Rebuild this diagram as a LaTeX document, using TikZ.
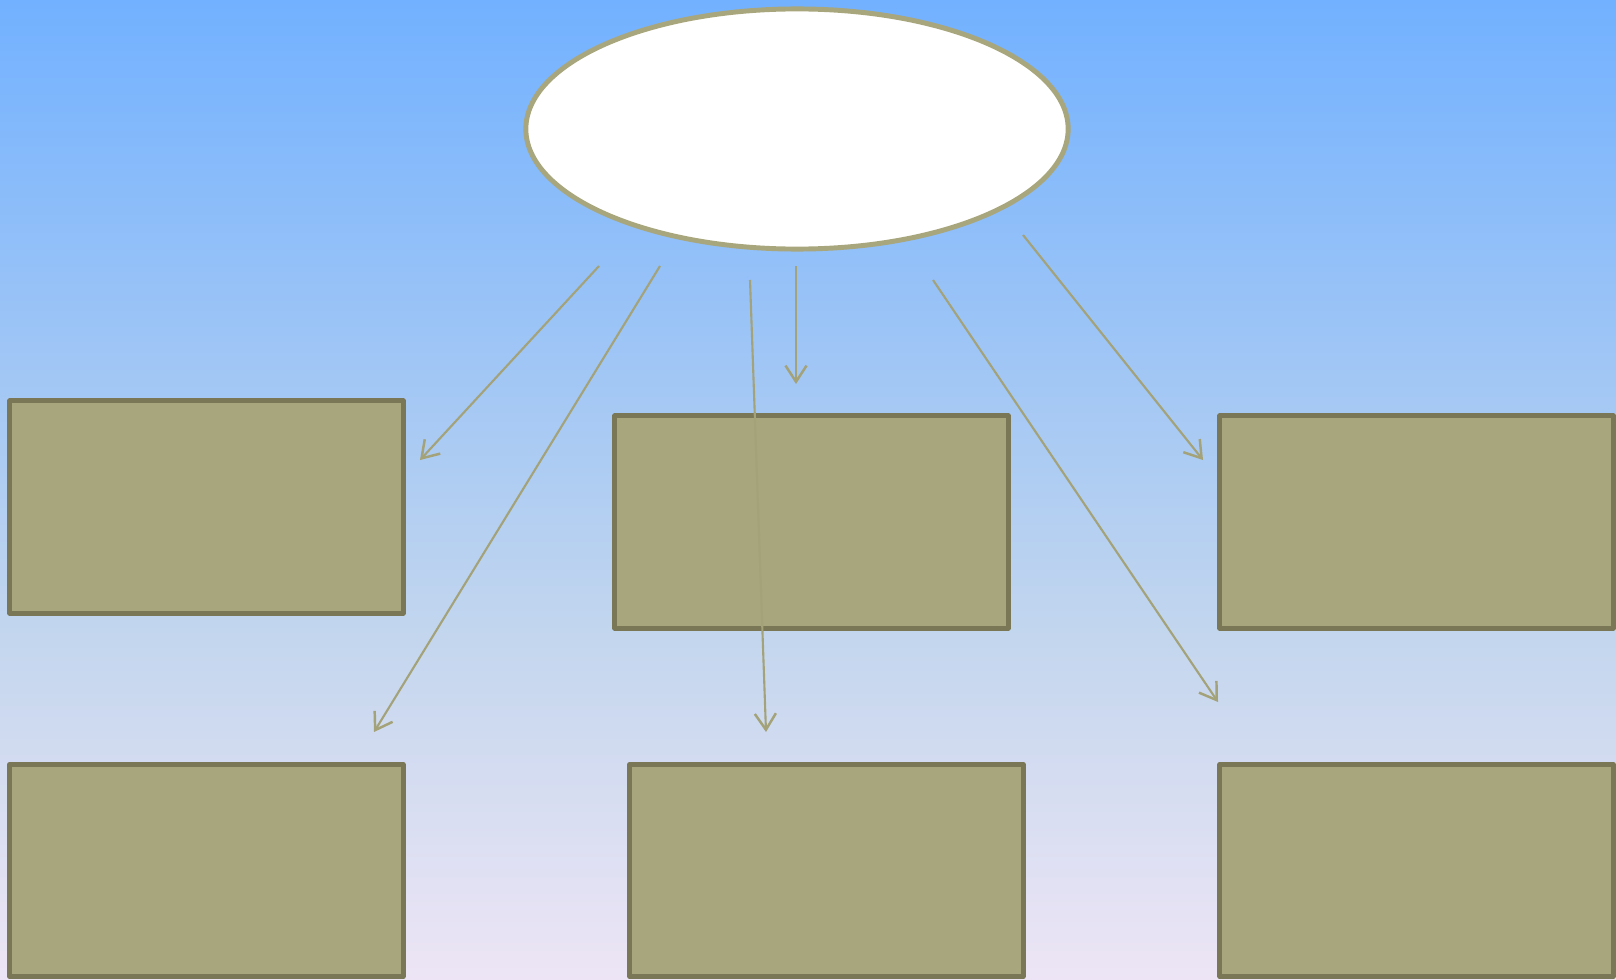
\documentclass[tikz,border=0pt]{standalone}
\usepackage{tikz}
\usetikzlibrary{arrows.meta}
\usetikzlibrary{shapes.geometric}
\usetikzlibrary{positioning}
\definecolor{skytop}{HTML}{72B1FF}
\definecolor{skymid}{HTML}{C3D6EE}
\definecolor{skybot}{HTML}{EDE5F5}
\definecolor{olive}{HTML}{A8A67C}
\definecolor{lineolive}{HTML}{A3A278}
\definecolor{darkolive}{HTML}{7A7756}
% the path only sees the stretch from 25bp to 75bp
\pgfdeclareverticalshading{skyfade}{100bp}{color(0bp)=(skybot); color(25bp)=(skybot);
  color(42.5bp)=(skymid); color(75bp)=(skytop); color(100bp)=(skytop)}
\tikzset{box/.style = {draw = darkolive, fill = olive, line width = 1.4pt, line join = round,
                       minimum width = 3.93cm, minimum height = 2.12cm, inner sep = 0}}
\tikzset{hub/.style = {draw = olive, fill = white, line width = 1.4pt, ellipse,
                       minimum width = 5.42cm, minimum height = 2.40cm, inner sep = 0}}
\tikzset{link/.style = {draw = lineolive, line width = 0.6pt,
                        -{Straight Barb[length = 4.6pt, width = 6pt, line width = 0.7pt]}}}

\begin{document}
\begin{tikzpicture}[x = 0.01cm, y = -0.01cm]
    \useasboundingbox (0, 0) rectangle (1616, 979);
    \clip (0, 0) rectangle (1616, 979);
    \fill [shading = skyfade] (0, 0) rectangle (1616, 979);

    \node [hub] (root) at (797, 129) {};

    \node [box] (topl) at (206.5, 507) {};
    \node [box] (topm) at (811.5, 522) {};
    \node [box] (topr) at (1416.5, 522) {};
    \node [box] (botl) at (206.5, 870.5) {};
    \node [box] (botm) at (826.5, 870.5) {};
    \node [box] (botr) at (1416.5, 870.5) {};

    % loose ends of the arrows
    \coordinate (s1) at (599, 266);   \coordinate (e1) at (420, 460);
    \coordinate (s2) at (660, 266);   \coordinate (e2) at (374, 732);
    \coordinate (s3) at (750, 280);   \coordinate (e3) at (766, 732);
    \coordinate (s4) at (796, 266);   \coordinate (e4) at (796, 384);
    \coordinate (s5) at (933, 280);   \coordinate (e5) at (1218, 702);
    \coordinate (s6) at (1023, 235);  \coordinate (e6) at (1203, 460);

    \draw [link] (s1) -- (e1);
    \draw [link] (s2) -- (e2);
    \draw [link] (s3) -- (e3);
    \draw [link] (s4) -- (e4);
    \draw [link] (s5) -- (e5);
    \draw [link] (s6) -- (e6);
  \end{tikzpicture}
\end{document}
